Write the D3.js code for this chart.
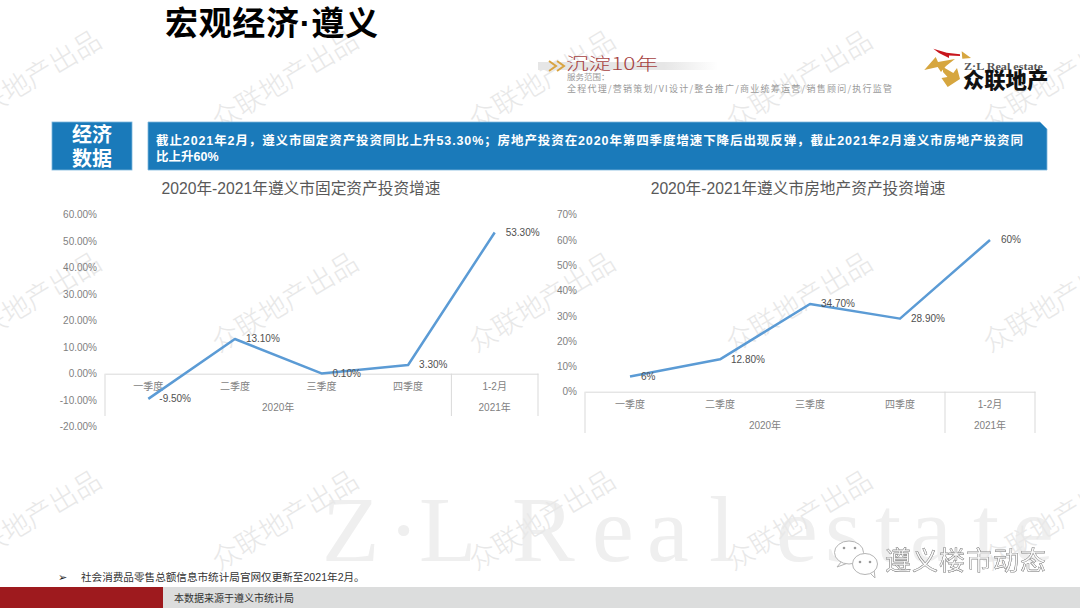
<!DOCTYPE html>
<html>
<head>
<meta charset="utf-8">
<script src="https://cdn.jsdelivr.net/npm/d3@7"></script>
<style>
  html, body { margin: 0; padding: 0; background: #fff; }
  svg { display: block; }
  text { font-family: "Liberation Sans", "Noto Sans CJK SC", sans-serif; }
</style>
</head>
<body>
<div id="chart"></div>
<script>
// chart values
const quarters = ["一季度", "二季度", "三季度", "四季度", "1-2月"];
const fixedValues = [-9.5, 13.1, 0.1, 3.3, 53.3];
const fixedLabels = ["-9.50%", "13.10%", "0.10%", "3.30%", "53.30%"];
const fixedTicks = [-20, -10, 0, 10, 20, 30, 40, 50, 60];
const estateValues = [6, 12.8, 34.7, 28.9, 60];
const estateLabels = ["6%", "12.80%", "34.70%", "28.90%", "60%"];
const estateTicks = [0, 10, 20, 30, 40, 50, 60, 70];

const cjk = '"Noto Sans CJK SC", sans-serif';

let svg = d3.select("#chart").append("svg")
  .attr("width", 1080)
  .attr("height", 608);

// big faded company name behind everything
svg.append("text")
  .attr("x", "322 388 419 478 512 592 647 709 745 776 825 875 910 973 1012")
  .attr("y", 561)
  .style("font-family", '"Liberation Serif", serif')
  .style("font-size", "94px")
  .style("white-space", "pre")
  .attr("fill", "#efefef")
  .text("Z·L Real estate");

// repeated watermark
const markX = [29, 286, 543, 800, 1057];
const markY = [82, 304, 522];
markY.forEach(y => {
  markX.forEach(x => {
    svg.append("text")
      .attr("transform", "translate(" + x + "," + y + ") rotate(-31)")
      .attr("text-anchor", "middle")
      .attr("dominant-baseline", "middle")
      .style("font-family", cjk)
      .style("font-size", "27.5px")
      .style("font-weight", "300")
      .attr("fill", "#e8e8e8")
      .text("众联地产出品");
  });
});

// page title
svg.append("text")
  .attr("x", 165)
  .attr("y", 35)
  .attr("textLength", 213)
  .style("font-size", "33px")
  .style("font-weight", "700")
  .attr("fill", "#000")
  .text("宏观经济·遵义");

// slogan top right
let barGrad = svg.append("defs").append("linearGradient").attr("id", "barGrad");
barGrad.append("stop").attr("offset", "0%").attr("stop-color", "#e6e6e6");
barGrad.append("stop").attr("offset", "70%").attr("stop-color", "#e6e6e6");
barGrad.append("stop").attr("offset", "100%").attr("stop-color", "#ffffff");
svg.append("rect").attr("x", 538).attr("y", 62).attr("width", 180).attr("height", 8).attr("fill", "url(#barGrad)");
svg.append("path")
  .attr("d", "M549,61 L556,66 L549,71 M557,61 L564,66 L557,71")
  .attr("fill", "none").attr("stroke", "#d9a441").attr("stroke-width", 2);
svg.append("text").attr("x", 566).attr("y", 70)
  .attr("textLength", 92).attr("lengthAdjust", "spacingAndGlyphs")
  .style("font-size", "17px").attr("fill", "#a5413f").style("font-family", cjk).style("font-weight", "300").text("沉淀10年");
svg.append("text").attr("x", 567).attr("y", 80)
  .style("font-size", "8.5px").attr("fill", "#9a9a9a").style("font-family", cjk).text("服务范围：");
svg.append("text").attr("x", 567).attr("y", 92)
  .attr("textLength", 325)
  .style("font-size", "9px").attr("fill", "#9a9a9a").style("font-family", cjk)
  .text("全程代理/营销策划/VI设计/整合推广/商业统筹运营/销售顾问/执行监管");

// logo
svg.append("path").attr("fill", "#d6a63f")
  .attr("d", "M924.3,70 L935.7,57 L938,62 L955,59 L946,66 L941,72 L937.7,67 Z");
svg.append("path").attr("fill", "#d6a63f")
  .attr("d", "M943,67 L953.3,73 L957,68 L960,79 L947.7,87 L941.5,78 L947.5,77 L943,72 Z");
svg.append("path").attr("fill", "#d6a63f")
  .attr("d", "M961.7,51.3 L971,58 L962.3,58.7 Z");
svg.append("path").attr("fill", "#c8161d")
  .attr("d", "M933.3,48.7 L946.7,52.7 L960,54.2 L960,56 L949,55.5 L949,58 L939,53 Z");
svg.append("text").attr("x", 964).attr("y", 70)
  .attr("textLength", 79).attr("lengthAdjust", "spacingAndGlyphs")
  .style("font-family", '"Liberation Serif", serif').style("font-size", "9.5px").style("font-weight", "700")
  .attr("fill", "#555").text("Z·L Real estate");
svg.append("text").attr("x", 963).attr("y", 88)
  .style("font-family", cjk).style("font-size", "21.3px").style("font-weight", "900")
  .attr("fill", "#111").text("众联地产");

// blue header boxes
svg.append("rect").attr("x", 52).attr("y", 122).attr("width", 80).attr("height", 48)
  .attr("fill", "#1a7aba").attr("stroke", "#7db6dc").attr("stroke-width", 0.8);
svg.append("path")
  .attr("d", "M148,122 H1040 L1047,129 V170 H148 Z")
  .attr("fill", "#1a7aba").attr("stroke", "#7db6dc").attr("stroke-width", 0.8);
svg.append("text").attr("x", 92).attr("y", 142).attr("text-anchor", "middle")
  .style("font-family", cjk).style("font-size", "20px").style("font-weight", "700").attr("fill", "#fff").text("经济");
svg.append("text").attr("x", 92).attr("y", 166).attr("text-anchor", "middle")
  .style("font-family", cjk).style("font-size", "20px").style("font-weight", "700").attr("fill", "#fff").text("数据");
svg.append("text").attr("x", 156).attr("y", 145)
  .attr("textLength", 867)
  .style("font-size", "12.5px").style("font-weight", "700").attr("fill", "#fff")
  .text("截止2021年2月，遵义市固定资产投资同比上升53.30%；房地产投资在2020年第四季度增速下降后出现反弹，截止2021年2月遵义市房地产投资同");
svg.append("text").attr("x", 156).attr("y", 161)
  .style("font-size", "12.5px").style("font-weight", "700").attr("fill", "#fff")
  .text("比上升60%");

function drawChart(opt) {
  let x = d3.scaleBand()
    .domain(quarters)
    .range([opt.left, opt.right]);

  let y = d3.scaleLinear()
    .domain(d3.extent(opt.ticks))
    .range([opt.bottom, opt.top]);

  let g = svg.append("g");

  // title
  g.append("text")
    .attr("x", opt.titleX)
    .attr("y", 193.5)
    .attr("text-anchor", "middle")
    .style("font-size", "15.7px")
    .attr("fill", "#595959")
    .text(opt.title);

  // y axis labels
  let yAxis = g.append("g")
    .attr("transform", "translate(" + opt.left + ",0)")
    .call(d3.axisLeft(y).tickValues(opt.ticks).tickSize(0).tickPadding(opt.left - opt.labelRight).tickFormat(opt.format));
  yAxis.select(".domain").remove();
  yAxis.selectAll("text")
    .style("font-size", "10px")
    .style("font-family", '"Liberation Sans", sans-serif')
    .attr("fill", "#7f7f7f");

  // category labels
  let y0 = y(0);
  let xAxis = g.append("g")
    .attr("transform", "translate(0," + y0 + ")")
    .call(d3.axisBottom(x).tickSize(0).tickPadding(9));
  xAxis.select(".domain").attr("stroke", "#d9d9d9").attr("stroke-width", 1);
  xAxis.selectAll("text")
    .style("font-size", "10px")
    .style("font-family", '"Liberation Sans", "Noto Sans CJK SC", sans-serif')
    .attr("fill", "#7f7f7f");

  // group level of the axis
  let sep = x("1-2月");
  [opt.left, sep, opt.right].forEach(d => {
    g.append("line")
      .attr("x1", d).attr("x2", d)
      .attr("y1", y0).attr("y2", opt.axisBottom)
      .attr("stroke", "#d9d9d9");
  });
  [["2020年", (opt.left + sep) / 2], ["2021年", (sep + opt.right) / 2]].forEach(d => {
    g.append("text")
      .attr("x", d[1])
      .attr("y", y0 + 37)
      .attr("text-anchor", "middle")
      .style("font-size", "10px")
      .attr("fill", "#7f7f7f")
      .text(d[0]);
  });

  // the line
  let line = d3.line()
    .x((d, i) => x(quarters[i]) + x.bandwidth() / 2)
    .y(d => y(d));

  g.append("path")
    .datum(opt.values)
    .attr("fill", "none")
    .attr("stroke", "#5b9bd5")
    .attr("stroke-width", 2.5)
    .attr("stroke-linejoin", "round")
    .attr("d", line);

  // data labels
  g.append("g").selectAll("text")
    .data(opt.values)
    .join("text")
    .attr("x", (d, i) => x(quarters[i]) + x.bandwidth() / 2 + 11)
    .attr("y", d => y(d) + 3.5)
    .style("font-size", "10px")
    .attr("fill", "#505050")
    .text((d, i) => opt.labels[i]);
}

drawChart({
  title: "2020年-2021年遵义市固定资产投资增速",
  titleX: 301,
  values: fixedValues,
  labels: fixedLabels,
  ticks: fixedTicks,
  format: d => d.toFixed(2) + "%",
  left: 105,
  right: 538,
  labelRight: 97,
  top: 214.7,
  bottom: 426.7,
  axisBottom: 416
});

drawChart({
  title: "2020年-2021年遵义市房地产资产投资增速",
  titleX: 798,
  values: estateValues,
  labels: estateLabels,
  ticks: estateTicks,
  format: d => d + "%",
  left: 585,
  right: 1035,
  labelRight: 577,
  top: 214.7,
  bottom: 391.7,
  axisBottom: 433
});

// note and footer
svg.append("text").attr("x", 58).attr("y", 581)
  .style("font-size", "11px").attr("fill", "#222").text("➢");
svg.append("text").attr("x", 81).attr("y", 581)
  .style("font-size", "10.6px").attr("fill", "#333")
  .text("社会消费品零售总额信息市统计局官网仅更新至2021年2月。");
svg.append("rect").attr("x", 0).attr("y", 587).attr("width", 1080).attr("height", 21).attr("fill", "#dcdddd");
svg.append("rect").attr("x", 0).attr("y", 587).attr("width", 163).attr("height", 21).attr("fill", "#9e1a1e");
svg.append("text").attr("x", 174).attr("y", 602)
  .style("font-size", "10px").attr("fill", "#333")
  .text("本数据来源于遵义市统计局");

// wechat stamp
let stamp = svg.append("g").attr("fill", "#fff").attr("stroke", "#b5b5b5").attr("stroke-width", 1);
stamp.append("path").attr("d", "M842,561 L837,567 L848,563 Z");
stamp.append("ellipse").attr("cx", 849).attr("cy", 552.5).attr("rx", 14.5).attr("ry", 11.5);
stamp.append("path").attr("d", "M869,572 L875,578 L874,569 Z");
stamp.append("ellipse").attr("cx", 865).attr("cy", 564).attr("rx", 12.5).attr("ry", 10.5);
stamp.selectAll("circle.eye")
  .data([[844, 548], [855, 548], [860, 562], [870, 562]])
  .join("circle")
  .attr("class", "eye")
  .attr("cx", d => d[0])
  .attr("cy", d => d[1])
  .attr("r", 1.3)
  .attr("fill", "#999")
  .attr("stroke", "none");

svg.append("text").attr("x", 885).attr("y", 570)
  .attr("textLength", 161)
  .style("font-family", cjk).style("font-size", "26px").style("font-weight", "400")
  .attr("fill", "#fafafa")
  .style("stroke", "#8f8f8f").style("stroke-width", "0.35px")
  .style("filter", "drop-shadow(0.8px 0.8px 0.3px #666)")
  .text("遵义楼市动态");
</script>
</body>
</html>
